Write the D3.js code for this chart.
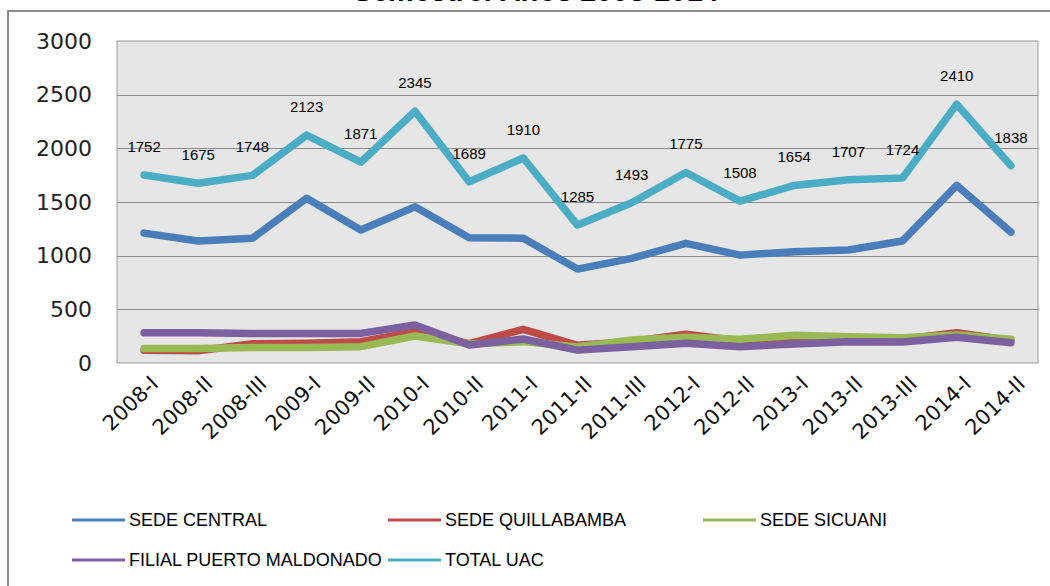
<!DOCTYPE html>
<html><head><meta charset="utf-8">
<script src="https://cdnjs.cloudflare.com/ajax/libs/d3/7.8.5/d3.min.js"></script>
<style>html,body{margin:0;padding:0;background:#fff;}svg{display:block;}</style>
</head><body>
<svg id="c" width="1050" height="586"></svg>
<script>
const categories = ["2008-I","2008-II","2008-III","2009-I","2009-II","2010-I","2010-II","2011-I","2011-II","2011-III","2012-I","2012-II","2013-I","2013-II","2013-III","2014-I","2014-II"];
const sedeCentral = [1210,1137,1162,1534,1239,1455,1168,1162,875,975,1115,1005,1037,1053,1137,1655,1220];
const sedeQuillabamba = [118,115,180,185,199,292,180,314,165,200,267,205,240,235,222,282,210];
const sedeSicuani = [135,135,145,145,152,252,178,199,150,214,240,221,258,245,235,261,221];
const filialPuertoMaldonado = [282,282,276,276,276,354,168,224,120,152,183,152,177,199,196,239,189];
const totalUAC = [1752,1675,1748,2123,1871,2345,1689,1910,1285,1493,1775,1508,1654,1707,1724,2410,1838];
const yTicks = [0,500,1000,1500,2000,2500,3000];
const seriesNames = ["SEDE CENTRAL","SEDE QUILLABAMBA","SEDE SICUANI","FILIAL PUERTO MALDONADO","TOTAL UAC"];
const seriesColors = ["#4A7EBB","#BE4B48","#98B954","#7D60A0","#4BACC6"];
const seriesValues = [sedeCentral, sedeQuillabamba, sedeSicuani, filialPuertoMaldonado, totalUAC];

const svg = d3.select("#c");
const L = 117, R = 1038, T = 41, B = 363;

// title (cut off at top, as in the reference)
svg.append("text").attr("x", 537).attr("y", 1).attr("text-anchor","middle")
  .style("font-family","Liberation Sans, Arial, sans-serif").style("font-weight","bold").style("font-style","italic")
  .style("font-size","29px").attr("fill","#000").text("Semestre: Años 2008-2014");

// outer frame
svg.append("rect").attr("x",8).attr("y",11).attr("width",1060).attr("height",600)
  .attr("fill","none").attr("stroke","#8a8a8a").attr("stroke-width",2);

const x = d3.scalePoint().domain(categories).range([L, R]).padding(0.5);
const y = d3.scaleLinear().domain([0,3000]).range([B, T]);

// plot area
svg.append("rect").attr("x",L).attr("y",T).attr("width",R-L).attr("height",B-T)
  .attr("fill","#E6E6E6").attr("stroke","#9a9a9a").attr("stroke-width",1);

// gridlines
svg.append("g").selectAll("line").data(yTicks.filter(d=>d>0&&d<3000)).join("line")
  .attr("x1",L).attr("x2",R).attr("y1",d=>Math.round(y(d))+0.5).attr("y2",d=>Math.round(y(d))+0.5)
  .attr("stroke","#8c8c8c").attr("stroke-width",1.2);

// y axis
const yAxis = d3.axisLeft(y).tickValues(yTicks).tickFormat(d3.format("d")).tickSize(0).tickPadding(0);
const gy = svg.append("g").attr("transform",`translate(${L-25},0)`).call(yAxis);
gy.select(".domain").remove();
gy.selectAll("text").style("font-family","DejaVu Sans, sans-serif").style("font-size","22px").attr("fill","#222");

// x axis
const xAxis = d3.axisBottom(x).tickSize(0).tickPadding(0);
const gx = svg.append("g").attr("transform",`translate(0,${B})`).call(xAxis);
gx.select(".domain").remove();
gx.selectAll("text").style("font-family","DejaVu Sans, sans-serif").style("font-size","21px").attr("fill","#111")
  .attr("text-anchor","end").attr("dy","0.35em")
  .attr("transform","translate(10,17) rotate(-44)");

// lines
const line = d3.line().x((d,i)=>x(categories[i])).y(d=>y(d));
seriesValues.forEach((vals,k)=>{
  svg.append("path").datum(vals).attr("d",line).attr("fill","none")
    .attr("stroke",seriesColors[k]).attr("stroke-width",7.5)
    .attr("stroke-linejoin","round").attr("stroke-linecap","round");
});

// data labels for total
svg.append("g").selectAll("text").data(totalUAC).join("text")
  .attr("x",(d,i)=>x(categories[i])).attr("y",d=>y(d)-23)
  .attr("text-anchor","middle")
  .style("font-family","Liberation Sans, Arial, sans-serif").style("font-size","15px").attr("fill","#000")
  .text(d=>d);

// legend
const legendPos = [[72,520],[388,520],[703,520],[72,560],[388,560]];
const lg = svg.append("g");
seriesNames.forEach((n,k)=>{
  const [lx,ly] = legendPos[k];
  lg.append("line").attr("x1",lx).attr("x2",lx+53).attr("y1",ly).attr("y2",ly)
    .attr("stroke",seriesColors[k]).attr("stroke-width",3);
  lg.append("text").attr("x",lx+57).attr("y",ly).attr("dy","0.35em")
    .style("font-family","Liberation Sans Narrow, Arial Narrow, sans-serif").style("font-size","18px").attr("fill","#000")
    .text(n);
});
</script>
</body></html>
